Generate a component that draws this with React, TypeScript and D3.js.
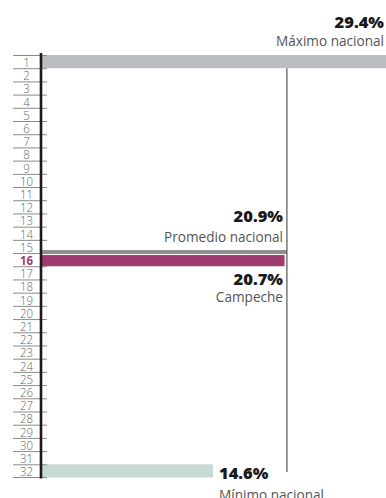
import React from "react";
import * as d3 from "d3";

const ranks: number[] = d3.range(1, 33);
const maxValue = 29.4;
const avgValue = 20.9;
const stateValue = 20.7;
const stateRank = 16;
const minValue = 14.6;
const maxLabel = "Máximo nacional";
const avgLabel = "Promedio nacional";
const stateLabel = "Campeche";
const minLabel = "Mínimo nacional";

const W = 386;
const H = 498;
const FONT = "'Open Sans', 'Noto Sans', sans-serif";

export default function App() {
  const x = d3.scaleLinear().domain([0, maxValue]).range([42, 386.5]);
  const y = d3.scaleBand<number>().domain(ranks).range([55, 477.5]).paddingInner(0).paddingOuter(0);
  const bw = y.bandwidth();
  const fmt = (v: number) => `${v.toFixed(1)}%`;
  const avgY = y(stateRank)!;
  const minY = y(32)!;
  return (
    <svg width={W} height={H} style={{ position: "absolute", left: 0, top: 0 }} fontFamily={FONT}>
      <rect x={0} y={0} width={W} height={H} fill="#fff" />
      <rect x={x(0)} y={y(1)} width={x(maxValue) - x(0)} height={bw} fill="#bcbdc0" />
      <rect x={x(0)} y={minY} width={x(minValue) - x(0)} height={bw} fill="#c6d9d3" />
      <rect x={x(0)} y={avgY - 3} width={x(avgValue) - x(0)} height={4} fill="#8f8f91" />
      <rect x={x(0)} y={avgY + 2} width={x(stateValue) - x(0)} height={bw - 2} fill="#a03b6e" />
      <line x1={x(avgValue)} x2={x(avgValue)} y1={y(1)! + bw} y2={472} stroke="#555" strokeWidth={1.2} />
      {ranks.map((r) => (
        <g key={r}>
          <line x1={13} x2={47} y1={y(r)! + 0.5} y2={y(r)! + 0.5} stroke="#8a8a8a" strokeWidth={1} />
          <text
            x={26.5}
            y={y(r)! + bw - 1.2}
            textAnchor="middle"
            fontSize={13}
            fontWeight={r === stateRank ? 700 : 300}
            fill={r === stateRank ? "#a03b6e" : "#666"}
            transform={`translate(26.5,0) scale(0.88,1) translate(-26.5,0)`}
          >
            {r}
          </text>
        </g>
      ))}
      <line x1={13} x2={47} y1={477.5} y2={477.5} stroke="#8a8a8a" strokeWidth={1} />
      <line x1={41} x2={41} y1={53} y2={478.5} stroke="#1a1a1a" strokeWidth={2.6} />
      <text x={384} y={28} textAnchor="end" fontSize={16.5} fontWeight={800} fill="#1a1a1a">{fmt(maxValue)}</text>
      <text x={384} y={46} textAnchor="end" fontSize={13.6} fill="#555">{maxLabel}</text>
      <text x={283} y={222} textAnchor="end" fontSize={16.5} fontWeight={800} fill="#1a1a1a">{fmt(avgValue)}</text>
      <text x={283} y={242} textAnchor="end" fontSize={13.6} fill="#555">{avgLabel}</text>
      <text x={283} y={285} textAnchor="end" fontSize={16.5} fontWeight={800} fill="#1a1a1a">{fmt(stateValue)}</text>
      <text x={283} y={302} textAnchor="end" fontSize={13.6} fill="#555">{stateLabel}</text>
      <text x={219} y={479} textAnchor="start" fontSize={16.5} fontWeight={800} fill="#1a1a1a">{fmt(minValue)}</text>
      <text x={219} y={499.5} textAnchor="start" fontSize={13.6} fill="#555">{minLabel}</text>
    </svg>
  );
}
